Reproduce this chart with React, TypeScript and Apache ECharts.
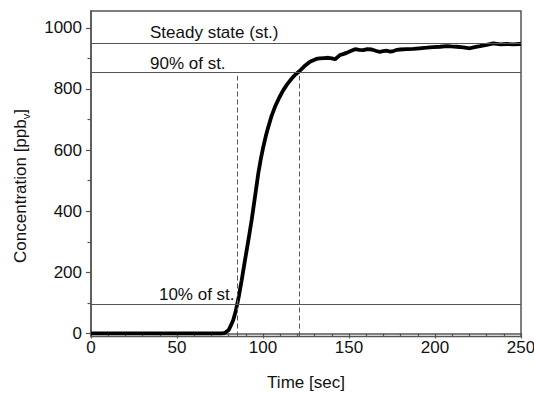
import React, { useEffect, useRef } from "react";
import * as echarts from "echarts";

const times = [0, 20, 40, 60, 76, 78, 80, 81, 82.7, 84, 85, 86, 87.6, 89, 90.5, 92, 93.4, 94.4, 95.8, 97.3, 98.7, 100.2, 101.6, 103.1, 105, 107, 109.5, 111.8, 114, 116.7, 119, 121, 124, 127.3, 129.3, 131, 133, 135.5, 138, 140, 141.9, 143.5, 144.8, 146.5, 148.6, 151, 153.5, 156, 158.3, 160.7, 163.2, 165.5, 168, 170, 172, 174, 175.8, 178, 179.7, 183.5, 187.4, 191, 195.2, 199, 203, 206.8, 209.5, 212.6, 216.5, 220.3, 223, 226.2, 230, 233.9, 238, 241.7, 245.5, 249.4, 250];
const concentration = [0, 0, 0, 0, 0, 2, 11, 22, 44, 70, 96, 123, 174, 222, 272, 322, 371, 410, 465, 525, 570, 611, 645, 676, 712, 742, 772, 796, 815, 834, 848, 857, 874, 889, 894, 898, 900, 901, 902, 900, 897, 905, 911, 914, 918, 924, 930, 928, 927, 930, 929, 925, 921, 924, 925, 922, 924, 928, 929, 930, 931, 933, 935, 937, 938, 940, 939, 938, 936, 933, 937, 940, 944, 949, 946, 947, 946, 947, 947];

const yMajorTicks = [0, 200, 400, 600, 800, 1000];
const yMinorTicks = [100, 300, 500, 700, 900];

const steadyState = 950;
const level90 = 855;
const level10 = 95;
const t10 = 85;
const t90 = 121;
const dashTop = 843;

const annotations = [
  { text: "Steady state (st.)", x: 34.3, y: steadyState, dy: -2.4 },
  { text: "90% of st.", x: 34.3, y: level90, dy: 0 },
  { text: "10% of st.", x: 39.5, y: level10, dy: -1.4 },
];

const FONT = "'Liberation Sans', Arial, Helvetica, sans-serif";
const AXIS_COLOR = "#555";
const TEXT_COLOR = "#111";

export default function App() {
  const ref = useRef<HTMLDivElement>(null);
  useEffect(() => {
    if (!ref.current) return;
    const chart = echarts.init(ref.current, null, { renderer: "svg" });
    const data = times.map((t, i) => [t, concentration[i]]);
    const option: any = {
      animation: false,
      backgroundColor: "#fff",
      textStyle: { fontFamily: FONT },
      grid: {
        left: 91,
        right: 13,
        top: 11,
        bottom: 56.5,
        containLabel: false,
        outerBoundsMode: "none",
        show: true,
        borderColor: AXIS_COLOR,
        borderWidth: 1.5,
      },
      xAxis: {
        type: "value",
        min: 0,
        max: 250,
        interval: 50,
        name: "Time [sec]",
        nameLocation: "middle",
        nameGap: 37,
        nameTextStyle: { fontSize: 17, color: TEXT_COLOR, fontFamily: FONT },
        axisLine: { show: true, lineStyle: { color: AXIS_COLOR, width: 1.5 } },
        axisTick: { show: true, length: 5, lineStyle: { color: AXIS_COLOR, width: 1.2 } },
        minorTick: { show: true, splitNumber: 5, length: 3.5, lineStyle: { color: AXIS_COLOR, width: 1.2 } },
        axisLabel: { fontSize: 17, color: TEXT_COLOR, margin: 2, fontFamily: FONT, formatter: (v: number) => String(v) },
        splitLine: { show: false },
        minorSplitLine: { show: false },
      },
      yAxis: [
        {
          type: "value",
          min: -10,
          max: 1055,
          axisLine: { show: true, lineStyle: { color: AXIS_COLOR, width: 1.5 } },
          axisTick: { show: true, length: 5, customValues: yMajorTicks, lineStyle: { color: AXIS_COLOR, width: 1.2 } },
          axisLabel: { fontSize: 17, color: TEXT_COLOR, margin: 9, customValues: yMajorTicks, fontFamily: FONT, formatter: (v: number) => String(v) },
          splitLine: { show: false },
        },
        {
          type: "value",
          min: -10,
          max: 1055,
          position: "left",
          axisLine: { show: false },
          axisTick: { show: true, length: 3.5, customValues: yMinorTicks, lineStyle: { color: AXIS_COLOR, width: 1.2 } },
          axisLabel: { show: false },
          splitLine: { show: false },
        },
      ],
      graphic: [
        {
          type: "text",
          x: 20,
          y: 186,
          rotation: Math.PI / 2,
          style: {
            text: "{a|Concentration [ppb}{s|v}{a|]}",
            align: "center",
            verticalAlign: "middle",
            fill: TEXT_COLOR,
            rich: {
              a: { fontSize: 17, fontFamily: FONT, fill: TEXT_COLOR, lineHeight: 22, verticalAlign: "middle" },
              s: { fontSize: 11, fontFamily: FONT, fill: TEXT_COLOR, lineHeight: 11, verticalAlign: "bottom" },
            },
          },
        },
      ],
      series: [
        {
          type: "line",
          data,
          yAxisIndex: 0,
          showSymbol: false,
          symbol: "none",
          smooth: false,
          lineStyle: { color: "#000", width: 3.8 },
          z: 3,
          markLine: {
            silent: true,
            symbol: "none",
            label: { show: false },
            lineStyle: { color: AXIS_COLOR, width: 1, type: "solid" },
            data: [
              { yAxis: steadyState },
              { yAxis: level90 },
              { yAxis: level10 },
              [
                { coord: [t10, -10], lineStyle: { type: [5, 3], color: AXIS_COLOR, width: 1 } },
                { coord: [t10, dashTop] },
              ],
              [
                { coord: [t90, -10], lineStyle: { type: [5, 3], color: AXIS_COLOR, width: 1 } },
                { coord: [t90, dashTop] },
              ],
            ],
          },
          markPoint: {
            silent: true,
            symbol: "rect",
            symbolSize: 0,
            itemStyle: { color: "transparent" },
            data: annotations.map((a) => ({
              coord: [a.x, a.y],
              label: {
                show: true,
                formatter: a.text,
                position: [0, 0],
                align: "left",
                verticalAlign: "bottom",
                offset: [0, a.dy],
                fontSize: 17,
                color: TEXT_COLOR,
                fontFamily: FONT,
              },
            })),
          },
        },
      ],
    };
    chart.setOption(option);
    return () => chart.dispose();
  }, []);
  return <div ref={ref} style={{ width: 534, height: 393, position: "fixed", left: 0, top: 0 }} />;
}
